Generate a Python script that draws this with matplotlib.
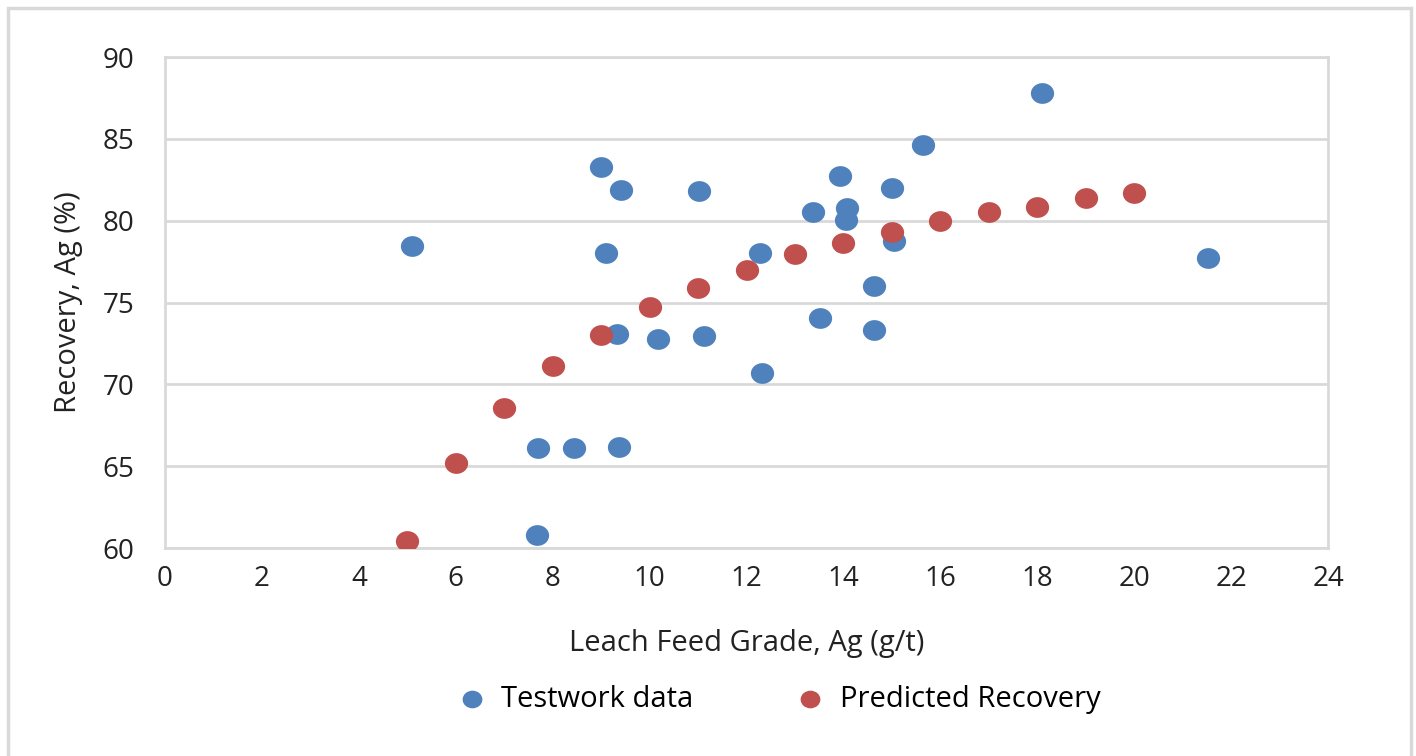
import matplotlib
matplotlib.use('Agg')
import matplotlib.pyplot as plt
from matplotlib.path import Path
from matplotlib.transforms import Affine2D
from matplotlib.patches import Rectangle

# Testwork data
test_grade = [5.1, 7.67, 7.69, 8.43, 8.99, 9.11, 9.32, 9.36, 9.42, 10.17, 11.01,
              11.12, 12.27, 12.31, 13.37, 13.51, 13.93, 14.07, 14.05, 14.63,
              14.63, 15.0, 15.04, 15.64, 18.1, 21.53]
test_recovery = [78.45, 60.8, 66.1, 66.1, 83.3, 78.0, 73.1, 66.2, 81.9, 72.8, 81.8,
                 72.95, 78.0, 70.7, 80.5, 74.05, 82.7, 80.8, 80.05, 76.0,
                 73.35, 82.0, 78.75, 84.65, 87.8, 77.7]

# Predicted recovery curve
pred_grade = [5, 6, 7, 8, 9, 10, 11, 12, 13, 14, 15, 16, 17, 18, 19, 20]
pred_recovery = [60.4, 65.2, 68.55, 71.1, 73.0, 74.7, 75.9, 77.0, 77.95, 78.65,
                 79.3, 80.0, 80.5, 80.85, 81.4, 81.7]

blue = '#4F81BD'
red = '#C0504D'
grid = '#D9D9D9'
txt = '#222222'

plt.rcParams['font.family'] = ['Open Sans', 'DejaVu Sans']

# Excel style markers are slightly wider than tall
ellipse = Path.unit_circle().transformed(Affine2D().scale(1.12, 1.0))

fig = plt.figure(figsize=(14.16, 7.56), dpi=100)
ax = fig.add_axes([0.1165, 0.2751, 0.9379 - 0.1165, 0.9246 - 0.2751])

ax.scatter(test_grade, test_recovery, s=280, marker=ellipse, c=blue,
           linewidths=0, label='Testwork data', zorder=3)
ax.scatter(pred_grade, pred_recovery, s=280, marker=ellipse, c=red,
           linewidths=0, label='Predicted Recovery', zorder=3)

ax.set_xlim(0, 24)
ax.set_ylim(60, 90)
ax.set_xticks(range(0, 25, 2))
ax.set_yticks(range(60, 91, 5))
ax.grid(axis='y', color=grid, linewidth=2)
ax.set_axisbelow(True)
for s in ax.spines.values():
    s.set_color(grid)
    s.set_linewidth(2)
ax.tick_params(length=0, labelsize=20, colors=txt)
ax.tick_params(axis='y', pad=22)
ax.tick_params(axis='x', pad=12)

ax.set_xlabel('Leach Feed Grade, Ag (g/t)', fontsize=21, color=txt, labelpad=26)
ax.set_ylabel('Recovery, Ag (%)', fontsize=21, color=txt, labelpad=14)

fig.legend(loc='center', bbox_to_anchor=(0.545, 0.075), ncol=2, frameon=False,
           fontsize=21, handletextpad=0.0, columnspacing=3.0, markerscale=0.85)

# outer chart border
fig.patches.append(Rectangle((8 / 1416, -0.05), (1411 - 8) / 1416, 1.05 - 8 / 756,
                             transform=fig.transFigure, fill=False,
                             edgecolor=grid, linewidth=2.5))

fig.savefig('out.png', dpi=100)
